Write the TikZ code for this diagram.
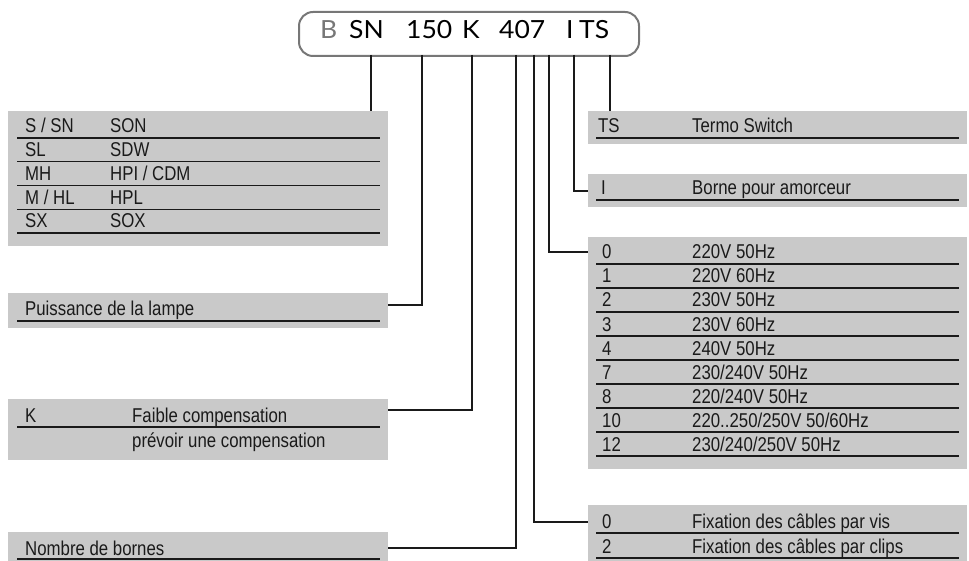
\documentclass[tikz,border=0pt]{standalone}
\usepackage{fontspec}
\setmainfont{Liberation Sans}[FakeStretch=0.84]
\newfontfamily\codefont{Lato}[FakeStretch=1.06]
\usetikzlibrary{positioning}

\definecolor{boxgrey}{HTML}{C9C9C9}
\definecolor{ink}{HTML}{1A1A1A}
\definecolor{frame}{HTML}{777777}

\begin{document}
\begin{tikzpicture}[
  x=1pt, y=-1pt,
  font=\fontsize{20}{22}\selectfont,
  panel/.style={fill=boxgrey, draw=none, anchor=north west, inner sep=0pt},
  rule/.style={draw=ink, line width=1.2pt},
  wire/.style={draw=ink, line width=1.2pt},
  cell/.style={anchor=base west, inner sep=0pt, text=ink},
  code/.style={font=\codefont\fontsize{25}{28}\selectfont, anchor=base west, inner sep=0pt},
  codebox/.style={draw=frame, line width=2pt, rounded corners=14pt, anchor=north west, inner sep=0pt}
]
  \useasboundingbox (0,0) rectangle (969,561);

  % type code
  \node[codebox, minimum width=340, minimum height=44] (code) at (298,11) {};
  \node[code, text=frame] (cB) at (320,39) {B};
  \node[code] (cSN) at (349,39) {SN};
  \node[code] (c150) at (406,39) {150};
  \node[code] (cK) at (462,39) {K};
  \node[code] (c407) at (499,39) {407};
  \node[code] (cI) at (566,39) {I};
  \node[code] (cTS) at (579,39) {TS};

  \coordinate (tSN) at (371,55);
  \coordinate (t150) at (422,55);
  \coordinate (tK) at (472,55);
  \coordinate (t4) at (516,55);
  \coordinate (t0) at (534,55);
  \coordinate (t7) at (549,55);
  \coordinate (tI) at (574,55);
  \coordinate (tTS) at (610,55);

  % left panels
  \node[panel, minimum width=380, minimum height=135] (lamp) at (8,111) {};
  \foreach \a/\b [count=\i] in {{S / SN}/SON, SL/SDW, MH/{HPI / CDM}, {M / HL}/HPL, SX/SOX} {
    \node[cell] at (25,{133+(\i-1)*23.75}) {\a};
    \node[cell] at (110,{133+(\i-1)*23.75}) {\b};
    \draw[rule] (17,{138+(\i-1)*23.75}) -- (380,{138+(\i-1)*23.75});
  }

  \node[panel, minimum width=380, minimum height=35] (power) at (8,293) {};
  \node[cell] at (25,316) {Puissance de la lampe};
  \draw[rule] (17,321) -- (380,321);

  \node[panel, minimum width=380, minimum height=61] (comp) at (8,399) {};
  \node[cell] at (25,422) {K};
  \node[cell] at (132,422) {Faible compensation};
  \draw[rule] (17,427) -- (380,427);
  \node[cell] at (132,447) {prévoir une compensation};

  \node[panel, minimum width=380, minimum height=29] (pins) at (8,532) {};
  \node[cell] at (25,555) {Nombre de bornes};
  \draw[rule] (17,559) -- (380,559);

  % right panels
  \node[panel, minimum width=379, minimum height=33] (ts) at (588,111) {};
  \node[cell] at (598,133) {TS};
  \node[cell] at (692,133) {Termo Switch};
  \draw[rule] (596,138) -- (959,138);

  \node[panel, minimum width=379, minimum height=33] (ign) at (588,174) {};
  \node[cell] at (601,195) {I};
  \node[cell] at (692,195) {Borne pour amorceur};
  \draw[rule] (596,200) -- (959,200);

  \node[panel, minimum width=379, minimum height=232] (volt) at (588,237) {};
  \foreach \a/\b [count=\i] in {0/220V 50Hz, 1/220V 60Hz, 2/230V 50Hz, 3/230V 60Hz, 4/240V 50Hz,
      7/230{/}240V 50Hz, 8/220{/}240V 50Hz, 10/220..250{/}250V 50{/}60Hz, 12/230{/}240{/}250V 50Hz} {
    \node[cell] at (602,{259+(\i-1)*24}) {\a};
    \node[cell] at (692,{259+(\i-1)*24}) {\b};
    \draw[rule] (596,{264+(\i-1)*24}) -- (959,{264+(\i-1)*24});
  }

  \node[panel, minimum width=379, minimum height=56] (fix) at (588,505) {};
  \node[cell] at (602,528) {0};
  \node[cell] at (692,528) {Fixation des câbles par vis};
  \draw[rule] (596,533) -- (959,533);
  \node[cell] at (602,553) {2};
  \node[cell] at (692,553) {Fixation des câbles par clips};
  \draw[rule] (596,558) -- (959,558);

  % connectors
  \draw[wire] (tSN) -- (tSN |- lamp.north);
  \draw[wire] (t150) |- ([yshift=-12pt]power.north east);
  \draw[wire] (tK) |- ([yshift=-11pt]comp.north east);
  \draw[wire] (t4) |- ([yshift=-16pt]pins.north east);
  \draw[wire] (t0) |- ([yshift=-17pt]fix.north west);
  \draw[wire] (t7) |- ([yshift=-15pt]volt.north west);
  \draw[wire] (tI) |- ([yshift=-17pt]ign.north west);
  \draw[wire] (tTS) -- (tTS |- ts.north);
\end{tikzpicture}
\end{document}
